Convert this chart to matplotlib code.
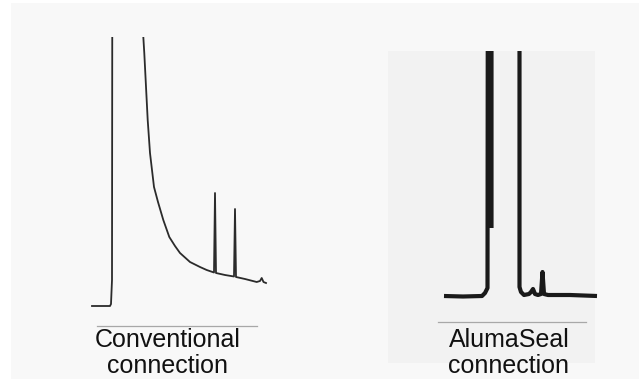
import numpy as np
import matplotlib
matplotlib.use("Agg")
import matplotlib.pyplot as plt
from matplotlib.patches import Rectangle
from matplotlib.lines import Line2D

W, H = 639, 379

# --- data (retention position, detector signal) ---
conv_time = [92, 110, 111, 112, 112.5, 142, 143.3, 144.3, 146, 147.7, 150, 154, 158,
             163.3, 169.3, 175, 180, 190, 200, 206.7, 214, 215, 216, 225, 234, 235,
             236, 245, 256.7, 260, 261.7, 263.5, 266]
conv_signal = [4, 4, 6, 30, 510, 510, 273.3, 256.7, 223.3, 190, 157, 123, 108,
               90, 73, 64, 57, 48, 43, 40, 37.5, 117, 37, 35, 33.5, 101,
               33, 31, 28, 29, 32, 28, 27]

seal_time = [444, 463, 482, 485, 487.5, 488, np.nan, 491.5, 491.5, np.nan, 519.5, 519.5,
             521, 524, 529, 531, 533, 535, 538, 541, 542.5, 544, 548, 570, 597]
seal_signal = [14, 13.5, 14, 17, 22, 510, np.nan, 510, 82, np.nan, 510, 23,
               18, 15, 16, 18, 21, 16, 15, 16, 38, 16, 15, 15, 14]

labels = ["Conventional\nconnection", "AlumaSeal\nconnection"]

plt.rcParams['font.family'] = ['Liberation Sans', 'DejaVu Sans']


def px(x, y):
    # pixel position -> figure fraction
    return x / W, 1 - y / H


fig = plt.figure(figsize=(W / 100, H / 100), dpi=100)
fig.patch.set_facecolor('white')

# backgrounds
fig.patches.append(Rectangle(px(11, 379), (W - 11) / W, (379 - 3) / H,
                             transform=fig.transFigure, facecolor='#f8f8f8',
                             edgecolor='none', zorder=0))
fig.patches.append(Rectangle(px(388, 363), (595 - 388) / W, (363 - 51) / H,
                             transform=fig.transFigure, facecolor='#f2f2f2',
                             edgecolor='none', zorder=0))

# left chromatogram
x0, y0 = px(80, 310)
ax1 = fig.add_axes([x0, y0, 200 / W, (310 - 37) / H])
ax1.plot(conv_time, conv_signal, color='#2b2b2b', lw=1.3, solid_joinstyle='round')
ax1.set_xlim(80, 280)
ax1.set_ylim(0, 273)
ax1.axis('off')
ax1.set_zorder(2)

# right chromatogram
x0, y0 = px(430, 310)
ax2 = fig.add_axes([x0, y0, 180 / W, (310 - 51) / H])
ax2.plot(seal_time, seal_signal, color='#1a1a1a', lw=3.0,
         solid_joinstyle='round', solid_capstyle='butt')
ax2.set_xlim(430, 610)
ax2.set_ylim(0, 259)
ax2.axis('off')
ax2.set_zorder(2)

# underlines
for xa, xb, yl in [(97, 257, 326), (438, 586, 322)]:
    fig.add_artist(Line2D([xa / W, xb / W], [1 - yl / H, 1 - yl / H],
                          transform=fig.transFigure, color='#a8a8a8', lw=0.9))

# captions
for label, xc in zip(labels, [168, 509]):
    first, second = label.split("\n")
    fig.text(*px(xc, 347), first, ha='center', va='baseline', fontsize=18, color='#111111')
    fig.text(*px(xc, 373), second, ha='center', va='baseline', fontsize=18, color='#111111')

fig.savefig('out.png', dpi=100, facecolor=fig.get_facecolor())
